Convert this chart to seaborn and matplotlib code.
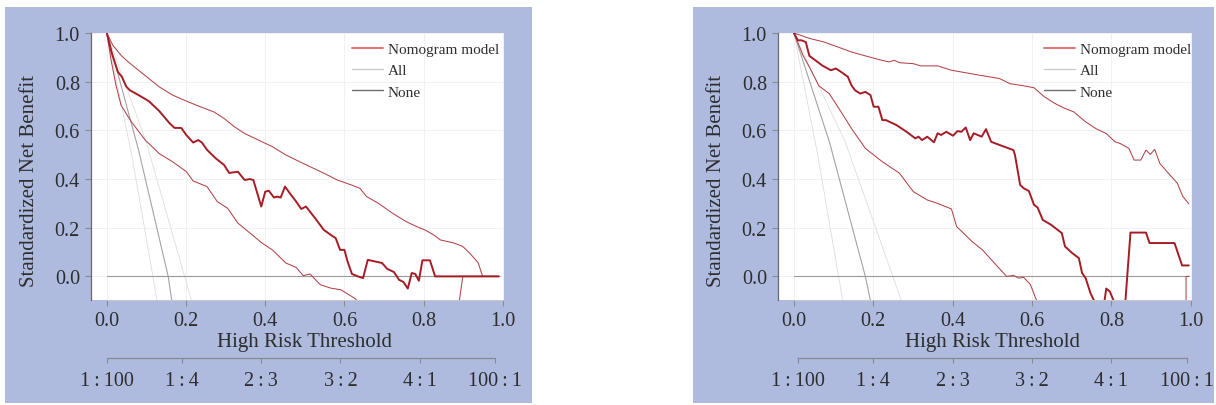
import matplotlib
matplotlib.use('Agg')
import matplotlib.pyplot as plt
from matplotlib.lines import Line2D
import seaborn as sns

# ---- left panel: nomogram curve and its confidence band ----
lm_x = [0, 0.012, 0.028, 0.038, 0.049, 0.058, 0.08, 0.106, 0.132, 0.158, 0.171, 0.188, 0.201, 0.218, 0.231,
        0.24, 0.253, 0.275, 0.296, 0.309, 0.331, 0.348, 0.361, 0.37, 0.39, 0.40, 0.409, 0.422, 0.43, 0.439,
        0.45, 0.465, 0.477, 0.491, 0.503, 0.513, 0.526, 0.548, 0.565, 0.578, 0.589, 0.60, 0.608, 0.619, 0.634,
        0.647, 0.659, 0.678, 0.695, 0.708, 0.725, 0.738, 0.749, 0.76, 0.77, 0.779, 0.788, 0.797, 0.816, 0.829, 0.99]
lm_y = [1.0, 0.92, 0.84, 0.82, 0.78, 0.765, 0.745, 0.72, 0.68, 0.63, 0.61, 0.61, 0.58, 0.55, 0.56,
        0.55, 0.52, 0.485, 0.458, 0.425, 0.43, 0.396, 0.40, 0.396, 0.287, 0.348, 0.352, 0.324, 0.328, 0.324,
        0.369, 0.335, 0.31, 0.277, 0.287, 0.266, 0.239, 0.191, 0.171, 0.157, 0.109, 0.109, 0.061, 0.01, 0.0,
        -0.007, 0.068, 0.061, 0.055, 0.031, 0.018, -0.014, -0.023, -0.05, 0.014, 0.01, -0.018, 0.066, 0.066, 0.0, 0.0]
lu_x = [0, 0.015, 0.036, 0.054, 0.08, 0.106, 0.132, 0.166, 0.201, 0.236, 0.27, 0.296, 0.322, 0.348, 0.383,
        0.418, 0.452, 0.487, 0.513, 0.548, 0.582, 0.617, 0.639, 0.656, 0.686, 0.721, 0.756, 0.782, 0.803, 0.825,
        0.842, 0.877, 0.899, 0.92, 0.938, 0.949, 0.99]
lu_y = [1.0, 0.95, 0.908, 0.881, 0.847, 0.813, 0.779, 0.745, 0.72, 0.697, 0.676, 0.649, 0.615, 0.587, 0.56,
        0.533, 0.499, 0.471, 0.451, 0.424, 0.396, 0.376, 0.362, 0.328, 0.30, 0.26, 0.225, 0.205, 0.191, 0.171,
        0.15, 0.137, 0.123, 0.089, 0.055, 0.0, 0.0]
ll_x = [0, 0.01, 0.023, 0.036, 0.062, 0.097, 0.132, 0.166, 0.201, 0.218, 0.253, 0.279, 0.305, 0.331, 0.357,
        0.392, 0.418, 0.452, 0.478, 0.496, 0.513, 0.539, 0.565, 0.591, 0.626, 0.65, 0.885, 0.899, 0.99]
ll_y = [1.0, 0.895, 0.786, 0.703, 0.635, 0.56, 0.505, 0.471, 0.43, 0.392, 0.369, 0.307, 0.28, 0.219, 0.184,
        0.137, 0.109, 0.055, 0.037, 0.003, 0.01, -0.034, -0.048, -0.055, -0.09, -0.13, -0.16, 0.0, 0.0]
# treat-all curve (centre, lower, upper)
la_x = [0, 0.08, 0.155, 0.164]
la_y = [1.0, 0.52, 0.0, -0.1]
la_lo_x = [0, 0.065, 0.127]
la_lo_y = [1.0, 0.48, -0.1]
la_hi_x = [0, 0.10, 0.214]
la_hi_y = [1.0, 0.55, -0.1]
ln_x = [0, 0.99]
ln_y = [0.0, 0.0]

# ---- right panel ----
rm_x = [0, 0.01, 0.019, 0.03, 0.039, 0.054, 0.071, 0.093, 0.106, 0.119, 0.136, 0.145, 0.154, 0.167, 0.18,
        0.193, 0.201, 0.213, 0.223, 0.232, 0.258, 0.284, 0.306, 0.314, 0.323, 0.336, 0.353, 0.362, 0.371, 0.384,
        0.401, 0.412, 0.422, 0.433, 0.444, 0.453, 0.473, 0.484, 0.497, 0.518, 0.553, 0.557, 0.57, 0.579, 0.592,
        0.605, 0.614, 0.627, 0.648, 0.675, 0.683, 0.701, 0.718, 0.726, 0.735, 0.747, 0.765, 0.78, 0.787, 0.796,
        0.803, 0.82, 0.833, 0.848, 0.887, 0.896, 0.959, 0.978, 0.995]
rm_y = [1.0, 0.97, 0.97, 0.963, 0.906, 0.888, 0.867, 0.847, 0.854, 0.84, 0.82, 0.785, 0.765, 0.751, 0.758,
        0.745, 0.697, 0.697, 0.642, 0.642, 0.622, 0.594, 0.567, 0.574, 0.56, 0.574, 0.551, 0.588, 0.581, 0.594,
        0.578, 0.597, 0.594, 0.612, 0.56, 0.588, 0.574, 0.605, 0.553, 0.54, 0.519, 0.499, 0.376, 0.362, 0.351,
        0.294, 0.283, 0.232, 0.212, 0.178, 0.123, 0.096, 0.075, 0.014, -0.007, -0.068, -0.13, -0.13, -0.05, -0.062,
        -0.09, -0.15, -0.15, 0.18, 0.18, 0.137, 0.137, 0.045, 0.045]
ru_x = [0, 0.041, 0.076, 0.11, 0.145, 0.18, 0.214, 0.24, 0.253, 0.266, 0.301, 0.319, 0.362, 0.397, 0.449,
        0.466, 0.518, 0.544, 0.579, 0.605, 0.631, 0.657, 0.683, 0.705, 0.735, 0.761, 0.787, 0.809, 0.822, 0.844,
        0.857, 0.874, 0.887, 0.898, 0.909, 0.922, 0.944, 0.966, 0.98, 0.995]
ru_y = [1.0, 0.977, 0.963, 0.943, 0.922, 0.906, 0.891, 0.881, 0.888, 0.878, 0.874, 0.865, 0.865, 0.847, 0.832,
        0.827, 0.813, 0.792, 0.783, 0.775, 0.738, 0.711, 0.69, 0.676, 0.635, 0.607, 0.587, 0.553, 0.546, 0.526,
        0.478, 0.478, 0.519, 0.501, 0.522, 0.464, 0.423, 0.383, 0.328, 0.298]
rl_x = [0, 0.023, 0.041, 0.063, 0.089, 0.119, 0.145, 0.18, 0.223, 0.266, 0.301, 0.336, 0.362, 0.397, 0.41,
        0.449, 0.475, 0.505, 0.536, 0.553, 0.566, 0.579, 0.596, 0.609, 0.62, 0.988, 0.988, 0.995]
rl_y = [1.0, 0.908, 0.854, 0.783, 0.751, 0.676, 0.608, 0.526, 0.471, 0.424, 0.348, 0.314, 0.30, 0.277, 0.205,
        0.143, 0.109, 0.055, 0.0, 0.004, -0.007, -0.004, -0.034, -0.089, -0.13, -0.13, 0.0, 0.0]
ra_x = [0, 0.09, 0.18, 0.193]
ra_y = [1.0, 0.55, 0.0, -0.1]
ra_lo_x = [0, 0.06, 0.123]
ra_lo_y = [1.0, 0.5, -0.1]
ra_hi_x = [0, 0.13, 0.271]
ra_hi_y = [1.0, 0.55, -0.1]
rn_x = [0, 0.995]
rn_y = [0.0, 0.0]

x_ticks = [0.0, 0.2, 0.4, 0.6, 0.8, 1.0]
y_ticks = [0.0, 0.2, 0.4, 0.6, 0.8, 1.0]
odds_pos = [0.01, 0.2, 0.4, 0.6, 0.8, 0.99]
odds_labels = ['1\u2009:\u2009100', '1\u2009:\u20094', '2\u2009:\u20093', '3\u2009:\u20092',
               '4\u2009:\u20091', '100\u2009:\u20091']
legend_labels = ['Nomogram model', 'All', 'None']

sns.set_theme(style='white')
plt.rcParams['font.family'] = ['Liberation Serif', 'DejaVu Serif']

W, H = 1216, 406
bg = '#AEBBDF'
txt = '#2e2e2e'
red = '#A51C25'
red_ci = '#B3434A'

fig = plt.figure(figsize=(W / 100, H / 100), dpi=100)
fig.patch.set_facecolor('white')


def panel(frame, box, shift, leg_x, model, upper, lower, allc, all_lo, all_hi, none):
    fx, fw = frame
    # blue frame behind the panel
    back = fig.add_axes([fx / W, 1 - 404 / H, fw / W, 396 / H], zorder=0)
    back.set_facecolor(bg)
    back.set_xticks([])
    back.set_yticks([])
    for s in back.spines.values():
        s.set_visible(False)

    x0, x1 = box
    ax = fig.add_axes([x0 / W, 1 - 301 / H, (x1 - x0) / W, 267 / H], zorder=2)
    ax.set_facecolor('white')
    ax.set_xlim(-0.04, 1.003)
    ax.set_ylim(-0.097, 1.0)
    ax.grid(True, color='#efefef', lw=0.6)
    ax.set_axisbelow(True)

    for (xs, ys), c, w in [(all_lo, '#dedede', 0.6), (all_hi, '#dedede', 0.6), (allc, '#a3a3a3', 0.8),
                           (none, '#9a9a9a', 0.8)]:
        sns.lineplot(x=xs, y=ys, ax=ax, color=c, lw=w, estimator=None, sort=False, legend=False)
    for (xs, ys), c, w in [(upper, red_ci, 0.75), (lower, red_ci, 0.75), (model, red, 1.4)]:
        sns.lineplot(x=xs, y=ys, ax=ax, color=c, lw=w, estimator=None, sort=False, legend=False)

    ax.set_xticks(x_ticks)
    ax.set_yticks(y_ticks)
    ax.set_xticklabels([f'{v:.1f}' for v in x_ticks])
    ax.set_yticklabels([f'{v:.1f}' for v in y_ticks])
    ax.tick_params(axis='both', length=4, width=0.8, color='#8a8a8a', labelsize=14.5,
                   labelcolor=txt, pad=4, bottom=True, left=True)
    for s in ['top', 'right']:
        ax.spines[s].set_visible(False)
    ax.spines['left'].set_color('#6a6a6a')
    ax.spines['left'].set_linewidth(0.9)
    ax.spines['bottom'].set_color('#c8c8c8')
    ax.spines['bottom'].set_linewidth(0.8)
    ax.spines['bottom'].set_bounds(0, 1)

    ax.set_xlabel('High Risk Threshold', fontsize=15, color=txt)
    ax.xaxis.set_label_coords(0.517, -0.118)
    ax.set_ylabel('Standardized Net Benefit', fontsize=15, color=txt)
    ax.yaxis.set_label_coords(-0.125, 0.45)

    handles = [Line2D([], [], color='#DE6A6A', lw=1.3),
               Line2D([], [], color='#cccccc', lw=1.0),
               Line2D([], [], color='#6e6e6e', lw=1.0)]
    leg = ax.legend(handles, legend_labels, loc='upper left', bbox_to_anchor=(leg_x, 0.965),
                    frameon=False, fontsize=11, handlelength=2.05, handletextpad=0.3,
                    labelspacing=0.5, borderpad=0, borderaxespad=0)
    for t in leg.get_texts():
        t.set_color(txt)

    # odds axis below the threshold axis
    ox = fig.add_axes([(x0 - shift) / W, 1 - 359 / H, (x1 - x0) / W, 0.001], zorder=2)
    ox.patch.set_alpha(0)
    ox.set_xlim(-0.04, 1.003)
    ox.set_yticks([])
    for s in ['top', 'right', 'left']:
        ox.spines[s].set_visible(False)
    ox.spines['bottom'].set_color('#8a8a8a')
    ox.spines['bottom'].set_linewidth(0.9)
    ox.spines['bottom'].set_bounds(odds_pos[0], odds_pos[-1])
    ox.set_xticks(odds_pos)
    ox.set_xticklabels(odds_labels)
    ox.tick_params(axis='x', length=3.5, width=0.8, color='#8a8a8a', labelsize=14.5,
                   labelcolor=txt, pad=6, bottom=True, direction='out')
    return ax


panel((5, 527), (91, 504), 4, 0.632, (lm_x, lm_y), (lu_x, lu_y), (ll_x, ll_y),
      (la_x, la_y), (la_lo_x, la_lo_y), (la_hi_x, la_hi_y), (ln_x, ln_y))
panel((693, 521), (778, 1192), 0, 0.642, (rm_x, rm_y), (ru_x, ru_y), (rl_x, rl_y),
      (ra_x, ra_y), (ra_lo_x, ra_lo_y), (ra_hi_x, ra_hi_y), (rn_x, rn_y))

fig.savefig('out.png', dpi=100, facecolor='white')
